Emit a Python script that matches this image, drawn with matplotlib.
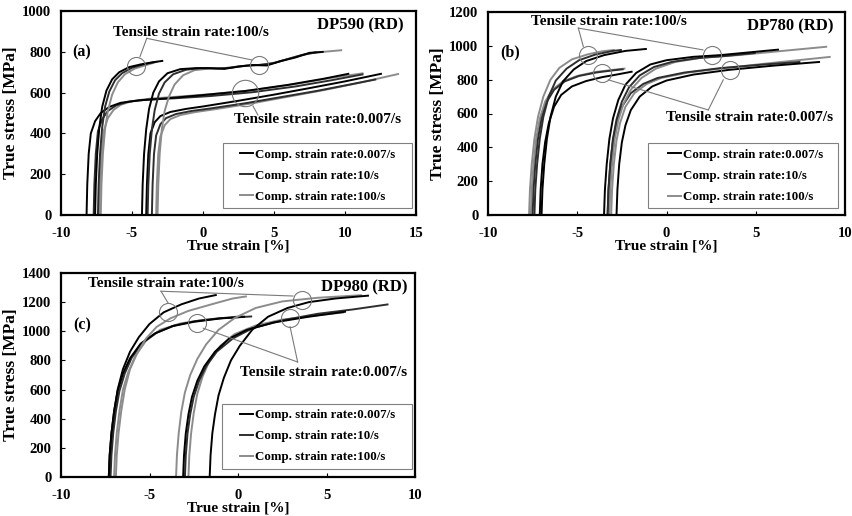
import matplotlib
matplotlib.use("Agg")
import matplotlib.pyplot as plt
from matplotlib.lines import Line2D
from matplotlib.patches import Rectangle

plt.rcParams['font.family'] = ['Liberation Serif', 'DejaVu Serif']
plt.rcParams['font.weight'] = 'bold'
plt.rcParams['axes.labelweight'] = 'bold'
plt.rcParams['axes.unicode_minus'] = False

# ---------------- data ----------------
COMP_LABELS = ["Comp. strain rate:0.007/s", "Comp. strain rate:10/s", "Comp. strain rate:100/s"]
COLORS = ["#000000", "#2e2e2e", "#8c8c8c"]

# ---- Panel (a) DP590 ----
# tensile 100/s, left group
A_T100L_C0_X = [-7.6, -7.55, -7.45, -7.3, -7.1, -6.8, -6.4, -5.9, -5.2, -4.4, -3.6, -2.8]
A_T100L_C0_Y = [0, 150, 300, 430, 530, 610, 665, 700, 725, 738, 748, 756]
A_T100L_C1_X = [-7.4, -7.35, -7.25, -7.1, -6.9, -6.6, -6.2, -5.7, -5.0, -4.2, -3.4]
A_T100L_C1_Y = [0, 150, 300, 430, 530, 605, 660, 695, 722, 738, 750]
A_T100L_C2_X = [-7.2, -7.15, -7.05, -6.9, -6.7, -6.4, -6.0, -5.5, -4.8, -4.0, -3.2]
A_T100L_C2_Y = [0, 150, 300, 420, 510, 590, 650, 690, 718, 735, 752]
# tensile 0.007/s, left group
A_T007L_C0_X = [-8.2, -8.15, -8.05, -7.9, -7.6, -7.2, -6.6, -5.8, -4.5, -2.5, 0, 3, 6, 8.5, 10.3]
A_T007L_C0_Y = [0, 150, 300, 400, 460, 500, 530, 550, 562, 572, 588, 608, 638, 668, 693]
A_T007L_C1_X = [-7.7, -7.65, -7.55, -7.4, -7.1, -6.7, -6.1, -5.3, -4.0, -2.0, 0.5, 3.5, 6.5, 9, 11.3]
A_T007L_C1_Y = [0, 150, 300, 410, 470, 510, 538, 555, 565, 572, 583, 602, 630, 660, 690]
A_T007L_C2_X = [-7.3, -7.25, -7.15, -7.0, -6.7, -6.3, -5.8, -5.0, -3.8, -1.8, 0.5, 3.5, 6.5, 9, 11.3]
A_T007L_C2_Y = [0, 150, 300, 410, 475, 515, 540, 558, 570, 580, 592, 612, 642, 672, 695]
# tensile 100/s, right group
A_T100R_C0_X = [-4.3, -4.25, -4.15, -4.0, -3.8, -3.5, -3.1, -2.5, -1.6, -0.5, 0.5, 1.5, 2.5, 3.5, 4.5, 5.5, 6.5, 7.5, 8.5]
A_T100R_C0_Y = [0, 150, 300, 420, 520, 600, 655, 695, 715, 720, 720, 716, 728, 735, 733, 755, 772, 795, 800]
A_T100R_C1_X = [-3.9, -3.85, -3.75, -3.6, -3.4, -3.1, -2.7, -2.1, -1.2, -0.2, 1.0, 2.0, 3.0, 4.0, 5.0, 6.0, 7.0, 8.0]
A_T100R_C1_Y = [0, 150, 300, 420, 515, 595, 650, 690, 712, 720, 718, 722, 732, 736, 745, 765, 785, 798]
A_T100R_C2_X = [-3.2, -3.15, -3.05, -2.9, -2.7, -2.4, -2.0, -1.4, -0.6, 0.5, 1.5, 2.5, 3.5, 4.5, 5.5, 6.5, 7.5, 8.5, 9.8]
A_T100R_C2_Y = [0, 150, 300, 420, 510, 580, 640, 685, 710, 718, 720, 728, 733, 738, 755, 775, 792, 800, 808]
# tensile 0.007/s, right group
A_T007R_C0_X = [-4.0, -3.95, -3.85, -3.7, -3.4, -3.0, -2.3, -1.2, 0, 2.5, 5, 7.5, 10, 12.6]
A_T007R_C0_Y = [0, 150, 300, 400, 455, 485, 505, 520, 532, 560, 590, 622, 655, 693]
A_T007R_C1_X = [-3.6, -3.55, -3.45, -3.3, -3.0, -2.6, -1.9, -0.8, 0.5, 3, 5.5, 8, 10, 12.2]
A_T007R_C1_Y = [0, 150, 300, 390, 445, 475, 495, 510, 522, 548, 578, 608, 635, 665]
A_T007R_C2_X = [-3.3, -3.25, -3.15, -3.0, -2.7, -2.3, -1.6, -0.5, 1.0, 3.5, 6, 8.5, 11, 13.8]
A_T007R_C2_Y = [0, 150, 300, 385, 440, 470, 490, 505, 520, 548, 580, 612, 648, 692]

# ---- Panel (b) DP780 ----
B_T100L_C0_X = [-7.0, -6.95, -6.85, -6.7, -6.5, -6.2, -5.8, -5.2, -4.5, -3.5, -2.3, -1.1]
B_T100L_C0_Y = [0, 150, 300, 450, 580, 700, 790, 860, 910, 945, 970, 982]
B_T100L_C1_X = [-7.4, -7.35, -7.25, -7.1, -6.9, -6.6, -6.2, -5.6, -4.9, -4.0, -3.0, -2.5]
B_T100L_C1_Y = [0, 150, 300, 450, 580, 700, 795, 865, 915, 948, 970, 976]
B_T100L_C2_X = [-7.7, -7.65, -7.55, -7.4, -7.2, -6.9, -6.5, -6.0, -5.3, -4.4, -3.6, -2.9]
B_T100L_C2_Y = [0, 150, 300, 450, 580, 700, 800, 870, 920, 950, 968, 976]
B_T007L_C0_X = [-7.1, -7.05, -6.95, -6.8, -6.6, -6.3, -5.9, -5.3, -4.5, -3.6, -2.7, -1.9]
B_T007L_C0_Y = [0, 150, 300, 430, 540, 640, 710, 760, 792, 815, 832, 848]
B_T007L_C1_X = [-7.5, -7.45, -7.35, -7.2, -7.0, -6.7, -6.3, -5.7, -4.9, -3.9, -3.0, -2.4]
B_T007L_C1_Y = [0, 150, 300, 450, 570, 670, 740, 790, 822, 843, 855, 862]
B_T007L_C2_X = [-7.6, -7.55, -7.45, -7.3, -7.1, -6.8, -6.4, -5.8, -5.0, -4.0, -3.0, -2.3]
B_T007L_C2_Y = [0, 150, 300, 450, 570, 670, 740, 790, 822, 845, 858, 866]
B_T100R_C0_X = [-3.5, -3.45, -3.35, -3.2, -3.0, -2.7, -2.3, -1.7, -0.9, 0, 1.5, 3, 4.5, 6.3]
B_T100R_C0_Y = [0, 150, 300, 450, 570, 680, 770, 840, 890, 915, 935, 945, 960, 978]
B_T100R_C1_X = [-3.3, -3.25, -3.15, -3.0, -2.8, -2.5, -2.1, -1.5, -0.7, 0.3, 1.8, 3.3, 5.0]
B_T100R_C1_Y = [0, 150, 300, 450, 565, 670, 755, 825, 875, 905, 928, 940, 958]
B_T100R_C2_X = [-3.2, -3.15, -3.05, -2.9, -2.7, -2.4, -2.0, -1.4, -0.6, 0.5, 2, 4, 6, 9]
B_T100R_C2_Y = [0, 150, 300, 450, 560, 660, 740, 810, 865, 905, 930, 945, 965, 995]
B_T007R_C0_X = [-2.8, -2.75, -2.65, -2.5, -2.3, -2.0, -1.5, -0.8, 0, 1.5, 3.5, 6, 8.6]
B_T007R_C0_Y = [0, 150, 300, 430, 530, 620, 700, 760, 795, 830, 858, 883, 905]
B_T007R_C1_X = [-3.3, -3.25, -3.15, -3.0, -2.8, -2.5, -2.0, -1.3, -0.5, 1.0, 3.0, 5.5, 7.5]
B_T007R_C1_Y = [0, 150, 300, 440, 545, 640, 720, 775, 810, 842, 868, 890, 905]
B_T007R_C2_X = [-3.1, -3.05, -2.95, -2.8, -2.6, -2.3, -1.8, -1.1, -0.3, 1.2, 3.2, 6, 9.2]
B_T007R_C2_Y = [0, 150, 300, 440, 545, 640, 720, 775, 810, 842, 868, 900, 935]

# ---- Panel (c) DP980 ----
C_T100L_C0_X = [-7.3, -7.25, -7.15, -7.0, -6.8, -6.5, -6.1, -5.6, -5.0, -4.2, -3.2, -2.2, -1.2]
C_T100L_C0_Y = [0, 150, 300, 450, 600, 740, 860, 960, 1050, 1130, 1185, 1225, 1250]
C_T100L_C2_X = [-6.9, -6.85, -6.75, -6.6, -6.4, -6.1, -5.7, -5.2, -4.6, -3.8, -2.8, -1.5, -0.3, 0.5]
C_T100L_C2_Y = [0, 150, 300, 450, 600, 740, 850, 950, 1030, 1090, 1140, 1185, 1225, 1240]
C_T007L_C0_X = [-7.3, -7.25, -7.15, -7.0, -6.8, -6.5, -6.1, -5.5, -4.7, -3.7, -2.5, -1.0, 0.4]
C_T007L_C0_Y = [0, 150, 300, 450, 590, 710, 815, 915, 985, 1035, 1065, 1088, 1100]
C_T007L_C1_X = [-7.2, -7.15, -7.05, -6.9, -6.7, -6.4, -6.0, -5.4, -4.6, -3.6, -2.4, -1.0, 0.8]
C_T007L_C1_Y = [0, 150, 300, 450, 590, 710, 820, 920, 990, 1040, 1070, 1090, 1102]
C_T007L_C2_X = [-7.0, -6.95, -6.85, -6.7, -6.5, -6.2, -5.8, -5.2, -4.4, -3.2, -1.8, -0.5, 0.3]
C_T007L_C2_Y = [0, 150, 300, 450, 600, 720, 830, 935, 1010, 1055, 1080, 1095, 1105]
C_T100R_C0_X = [-1.6, -1.55, -1.45, -1.3, -1.1, -0.8, -0.4, 0.1, 0.8, 1.7, 2.8, 4.0, 5.5, 7.4]
C_T100R_C0_Y = [0, 150, 300, 430, 560, 680, 800, 900, 1010, 1100, 1160, 1200, 1225, 1245]
C_T100R_C2_X = [-3.5, -3.45, -3.35, -3.2, -3.0, -2.7, -2.3, -1.8, -1.1, -0.2, 1.0, 2.5, 4.5, 7.0]
C_T100R_C2_Y = [0, 150, 300, 450, 580, 700, 810, 910, 1010, 1090, 1160, 1205, 1230, 1248]
C_T007R_C0_X = [-3.1, -3.05, -2.95, -2.8, -2.6, -2.3, -1.9, -1.3, -0.5, 0.5, 2.0, 4.0, 6.1]
C_T007R_C0_Y = [0, 150, 300, 430, 550, 660, 760, 860, 950, 1010, 1060, 1100, 1135]
C_T007R_C1_X = [-3.0, -2.95, -2.85, -2.7, -2.5, -2.2, -1.8, -1.2, -0.3, 0.8, 2.5, 4.5, 6.5, 8.5]
C_T007R_C1_Y = [0, 150, 300, 430, 550, 660, 760, 860, 950, 1020, 1075, 1120, 1150, 1185]
C_T007R_C2_X = [-2.8, -2.75, -2.65, -2.5, -2.3, -2.0, -1.6, -1.0, -0.2, 1.0, 2.5, 4.5, 6.0]
C_T007R_C2_Y = [0, 150, 300, 440, 570, 690, 800, 900, 980, 1040, 1080, 1110, 1130]

# curves per panel: (x, y, comp-rate index)
CURVES_A = [
    (A_T007L_C2_X, A_T007L_C2_Y, 2), (A_T007L_C1_X, A_T007L_C1_Y, 1), (A_T007L_C0_X, A_T007L_C0_Y, 0),
    (A_T007R_C2_X, A_T007R_C2_Y, 2), (A_T007R_C1_X, A_T007R_C1_Y, 1), (A_T007R_C0_X, A_T007R_C0_Y, 0),
    (A_T100L_C2_X, A_T100L_C2_Y, 2), (A_T100L_C1_X, A_T100L_C1_Y, 1), (A_T100L_C0_X, A_T100L_C0_Y, 0),
    (A_T100R_C2_X, A_T100R_C2_Y, 2), (A_T100R_C1_X, A_T100R_C1_Y, 1), (A_T100R_C0_X, A_T100R_C0_Y, 0),
]
CURVES_B = [
    (B_T007L_C2_X, B_T007L_C2_Y, 2), (B_T007L_C1_X, B_T007L_C1_Y, 1), (B_T007L_C0_X, B_T007L_C0_Y, 0),
    (B_T007R_C2_X, B_T007R_C2_Y, 2), (B_T007R_C1_X, B_T007R_C1_Y, 1), (B_T007R_C0_X, B_T007R_C0_Y, 0),
    (B_T100L_C2_X, B_T100L_C2_Y, 2), (B_T100L_C1_X, B_T100L_C1_Y, 1), (B_T100L_C0_X, B_T100L_C0_Y, 0),
    (B_T100R_C2_X, B_T100R_C2_Y, 2), (B_T100R_C1_X, B_T100R_C1_Y, 1), (B_T100R_C0_X, B_T100R_C0_Y, 0),
]
CURVES_C = [
    (C_T007L_C2_X, C_T007L_C2_Y, 2), (C_T007L_C1_X, C_T007L_C1_Y, 1), (C_T007L_C0_X, C_T007L_C0_Y, 0),
    (C_T007R_C2_X, C_T007R_C2_Y, 2), (C_T007R_C1_X, C_T007R_C1_Y, 1), (C_T007R_C0_X, C_T007R_C0_Y, 0),
    (C_T100L_C2_X, C_T100L_C2_Y, 2), (C_T100L_C0_X, C_T100L_C0_Y, 0),
    (C_T100R_C2_X, C_T100R_C2_Y, 2), (C_T100R_C0_X, C_T100R_C0_Y, 0),
]

TITLES = ["DP590 (RD)", "DP780 (RD)", "DP980 (RD)"]
TAGS = ["(a)", "(b)", "(c)"]
XTICKS = [[-10, -5, 0, 5, 10, 15], [-10, -5, 0, 5, 10], [-10, -5, 0, 5, 10]]
YTICKS = [[0, 200, 400, 600, 800, 1000], [0, 200, 400, 600, 800, 1000, 1200],
          [0, 200, 400, 600, 800, 1000, 1200, 1400]]

# annotation anchors (data coords)
ANN = {
    0: dict(t100_text=(-0.85, 897), t007_text=(8.06, 466), title=(11.09, 931), tag=(-8.56, 799),
            c100=[(-4.74, 730, 13), (3.94, 735, 13)], c007=[(2.96, 600, 19)],
            l100=[((-3.96, 866), (-4.44, 776)), ((-3.96, 866), (3.45, 760))],
            l007=[((3.52, 534), (3.87, 490))]),
    1: dict(t100_text=(-3.25, 1142), t007_text=(4.68, 574), title=(6.92, 1112), tag=(-8.77, 959),
            c100=[(-4.38, 946, 13), (2.53, 946, 13)], c007=[(-3.63, 838, 13), (3.56, 858, 13)],
            l100=[((-4.94, 1105), (-4.66, 996)), ((-4.94, 1105), (2.04, 976))],
            l007=[((-3.26, 799), (2.34, 621)), ((3.18, 799), (2.34, 621))]),
    2: dict(t100_text=(-4.07, 1331), t007_text=(4.86, 714), title=(7.12, 1304), tag=(-8.79, 1043),
            c100=[(-3.94, 1134, 13), (3.6, 1215, 13)], c007=[(-2.33, 1055, 13), (2.94, 1089, 13)],
            l100=[((-4.35, 1275), (-3.95, 1194)), ((-4.35, 1275), (3.11, 1242))],
            l007=[((-1.96, 1021), (3.37, 789)), ((2.94, 1032), (3.37, 789))]),
}

# legend box (axes fraction: x0, y0, x1, y1) and legend anchor (x, y top)
LEG_BOX = [(0.456, 0.034, 0.989, 0.353), (0.448, 0.034, 0.980, 0.353), (0.455, 0.039, 0.992, 0.358)]
LEG_ANCHOR = [(0.504, 0.326), (0.504, 0.326), (0.506, 0.333)]

# ---------------- figure ----------------
fig = plt.figure(figsize=(8.52, 5.16), dpi=100)
rects = [
    (61 / 852, 1 - 215 / 516, (416 - 61) / 852, 204 / 516),
    (488 / 852, 1 - 215 / 516, (845 - 488) / 852, 203 / 516),
    (61 / 852, 1 - 477 / 516, (415 - 61) / 852, 204 / 516),
]
all_curves = [CURVES_A, CURVES_B, CURVES_C]
LEADER = "#7a7a7a"

for i, rect in enumerate(rects):
    ax = fig.add_axes(rect)
    for x, y, c in all_curves[i]:
        ax.plot(x, y, color=COLORS[c], lw=1.4, solid_capstyle='butt')
    ax.set_xlim(XTICKS[i][0], XTICKS[i][-1])
    ax.set_ylim(YTICKS[i][0], YTICKS[i][-1])
    ax.set_xticks(XTICKS[i])
    ax.set_yticks(YTICKS[i])
    ax.tick_params(direction='in', length=3, width=0.8, labelsize=10.5)
    ax.tick_params(axis='x', pad=8.5)
    ax.tick_params(axis='y', pad=7)
    for lab in ax.get_xticklabels() + ax.get_yticklabels():
        lab.set_fontweight('bold')
    for sp in ax.spines.values():
        sp.set_linewidth(1.6)
    ax.set_xlabel("True strain [%]", fontsize=11, fontweight='bold', labelpad=0)
    ax.set_ylabel("True stress [MPa]", fontsize=12.5, fontweight='bold', labelpad=2)

    a = ANN[i]
    for (cx, cy, ms) in a['c100'] + a['c007']:
        ax.plot([cx], [cy], 'o', ms=ms, mfc='none', mec=LEADER, mew=0.8)
    for (p0, p1) in a['l100'] + a['l007']:
        ax.plot([p0[0], p1[0]], [p0[1], p1[1]], color=LEADER, lw=0.8)
    ax.text(*a['t100_text'], "Tensile strain rate:100/s", ha='center', va='center',
            fontsize=11, fontweight='bold')
    ax.text(*a['t007_text'], "Tensile strain rate:0.007/s", ha='center', va='center',
            fontsize=11, fontweight='bold')
    ax.text(*a['title'], TITLES[i], ha='center', va='center', fontsize=12, fontweight='bold')
    ax.text(*a['tag'], TAGS[i], ha='center', va='center', fontsize=11.5, fontweight='bold')

    x0, y0, x1, y1 = LEG_BOX[i]
    ax.add_patch(Rectangle((x0, y0), x1 - x0, y1 - y0, transform=ax.transAxes,
                           facecolor='white', edgecolor='#808080', lw=0.8, zorder=4))
    handles = [Line2D([], [], color=COLORS[k], lw=1.4) for k in range(3)]
    leg = ax.legend(handles, COMP_LABELS, loc='upper left', bbox_to_anchor=LEG_ANCHOR[i],
                    borderaxespad=0, borderpad=0, frameon=False,
                    handlelength=1.0, handletextpad=0.15, labelspacing=0.7,
                    prop={'size': 9.3, 'weight': 'bold'})
    leg.set_zorder(5)

fig.savefig("out.png", dpi=100)
